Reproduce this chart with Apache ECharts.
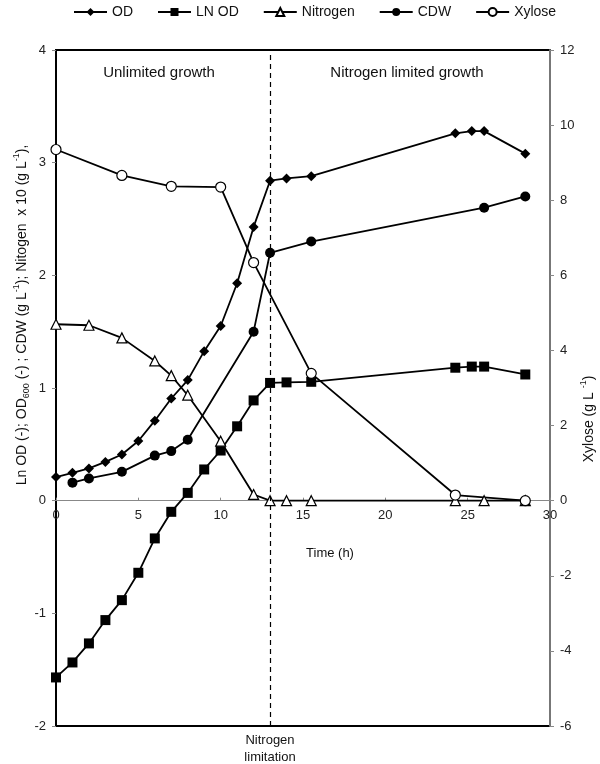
<!DOCTYPE html>
<html>
<head>
<meta charset="utf-8">
<script src="https://cdn.jsdelivr.net/npm/echarts@6/dist/echarts.min.js"></script>
<style>
html,body{margin:0;padding:0;background:#fff;}
#chart{width:600px;height:764px;}
</style>
</head>
<body>
<div id="chart"></div>
<script>
// ---- data ----
var timeOD = [0, 1, 2, 3, 4, 5, 6, 7, 8, 9, 10, 11, 12, 13, 14, 15.5, 24.25, 25.25, 26, 28.5];
var odValues = [0.21, 0.247, 0.286, 0.344, 0.41, 0.53, 0.71, 0.907, 1.07, 1.327, 1.55, 1.93, 2.43, 2.84, 2.86, 2.88, 3.26, 3.28, 3.28, 3.08];
var lnOdValues = [-1.569, -1.436, -1.267, -1.06, -0.883, -0.64, -0.335, -0.099, 0.069, 0.277, 0.445, 0.66, 0.89, 1.045, 1.05, 1.055, 1.18, 1.19, 1.19, 1.12];
var timeCDW = [1, 2, 4, 6, 7, 8, 12, 13, 15.5, 26, 28.5];
var cdwValues = [0.16, 0.197, 0.256, 0.40, 0.44, 0.54, 1.50, 2.20, 2.30, 2.60, 2.70];
var timeN = [0, 2, 4, 6, 7, 8, 10, 12, 13, 14, 15.5, 24.25, 26, 28.5];
var nitrogenValues = [1.566, 1.557, 1.445, 1.24, 1.11, 0.936, 0.528, 0.055, 0, 0, 0, 0, 0, 0];
var timeXyl = [0, 4, 7, 10, 12, 15.5, 24.25, 28.5];
var xyloseValues = [9.35, 8.66, 8.37, 8.35, 6.34, 3.39, 0.15, 0];
var limitationTime = 13;
var seriesNames = ['OD', 'LN OD', 'Nitrogen', 'CDW', 'Xylose'];
var leftTicks = {min: -2, max: 4, interval: 1};
var rightTicks = {min: -6, max: 12, interval: 2};
var xTicks = {min: 0, max: 30, interval: 5};

function pairs(t, v) { return t.map(function (x, i) { return [x, v[i]]; }); }

var FONT = '"Liberation Sans", Arial, sans-serif';
var chart = echarts.init(document.getElementById('chart'), null, {renderer: 'canvas'});

var GRID_TOP = 50, GRID_BOTTOM = 38, H = 764;
var plotH = H - GRID_TOP - GRID_BOTTOM;
// offset that places the bottom x axis on the value 0 of the left axis
var zeroOffset = -plotH * (0 - leftTicks.min) / (leftTicks.max - leftTicks.min);

function lineSeries(name, data, symbol, filled, yIdx, extra) {
  var s = {
    name: name,
    type: 'line',
    data: data,
    yAxisIndex: yIdx,
    symbol: symbol,
    symbolSize: 10,
    showAllSymbol: true,
    lineStyle: {color: '#000', width: 1.8},
    itemStyle: filled ? {color: '#000'} : {color: '#fff', borderColor: '#000', borderWidth: 1.2},
    emphasis: {disabled: true},
    animation: false,
    z: 3
  };
  if (extra) for (var k in extra) s[k] = extra[k];
  return s;
}

var option = {
  animation: false,
  textStyle: {fontFamily: FONT},
  legend: {
    top: 0,
    left: 68,
    itemWidth: 33,
    itemHeight: 10,
    itemGap: 24,
    textStyle: {fontSize: 14, color: '#111', fontFamily: FONT},
    data: seriesNames
  },
  grid: {
    left: 56, right: 50, top: GRID_TOP, bottom: GRID_BOTTOM,
    show: true, borderColor: '#000', borderWidth: 2, backgroundColor: 'transparent'
  },
  xAxis: {
    type: 'value',
    position: 'bottom',
    offset: zeroOffset,
    min: xTicks.min, max: xTicks.max, interval: xTicks.interval,
    axisLine: {onZero: false, lineStyle: {color: '#888', width: 1}},
    axisTick: {show: true, inside: true, length: 3, lineStyle: {color: '#888'}},
    axisLabel: {fontSize: 13, color: '#222', margin: 8, fontFamily: FONT},
    splitLine: {show: false}
  },
  yAxis: [
    {
      type: 'value',
      min: leftTicks.min, max: leftTicks.max, interval: leftTicks.interval,
      axisLine: {show: true, lineStyle: {color: '#000', width: 2}},
      axisTick: {show: true, length: 4, lineStyle: {color: '#888'}},
      axisLabel: {fontSize: 13, color: '#222', margin: 10, fontFamily: FONT},
      splitLine: {show: false}
    },
    {
      type: 'value',
      position: 'right',
      min: rightTicks.min, max: rightTicks.max, interval: rightTicks.interval,
      axisLine: {show: true, lineStyle: {color: '#777', width: 2}},
      axisTick: {show: true, length: 4, lineStyle: {color: '#888'}},
      axisLabel: {fontSize: 13, color: '#222', margin: 10, fontFamily: FONT},
      splitLine: {show: false}
    }
  ],
  series: [
    lineSeries('OD', pairs(timeOD, odValues), 'diamond', true, 0, {
      markLine: {
        silent: true,
        symbol: ['none', 'none'],
        label: {show: false},
        lineStyle: {color: '#000', type: [5, 4], width: 1.2},
        data: [{xAxis: limitationTime}]
      }
    }),
    lineSeries('LN OD', pairs(timeOD, lnOdValues), 'rect', true, 0),
    lineSeries('Nitrogen', pairs(timeN, nitrogenValues), 'triangle', false, 0),
    lineSeries('CDW', pairs(timeCDW, cdwValues), 'circle', true, 0),
    lineSeries('Xylose', pairs(timeXyl, xyloseValues), 'circle', false, 1)
  ],
  graphic: [
    {type: 'text', x: 159, y: 73, style: {text: 'Unlimited growth', font: '15px ' + FONT, fill: '#111', align: 'center', verticalAlign: 'middle'}},
    {type: 'text', x: 407, y: 73, style: {text: 'Nitrogen limited growth', font: '15px ' + FONT, fill: '#111', align: 'center', verticalAlign: 'middle'}},
    {type: 'text', x: 330, y: 553, style: {text: 'Time (h)', font: '13px ' + FONT, fill: '#111', align: 'center', verticalAlign: 'middle'}},
    {type: 'text', x: 270, y: 740, style: {text: 'Nitrogen', font: '13px ' + FONT, fill: '#111', align: 'center', verticalAlign: 'middle'}},
    {type: 'text', x: 270, y: 757, style: {text: 'limitation', font: '13px ' + FONT, fill: '#111', align: 'center', verticalAlign: 'middle'}},
    {type: 'text', x: 22, y: 315, rotation: Math.PI / 2,
      style: {
        text: 'Ln OD (-); OD{sub|600} (-) ; CDW (g L{sup|-1}); Nitogen  x 10 (g L{sup|-1}),',
        font: '14px ' + FONT, fill: '#111', align: 'center', verticalAlign: 'middle',
        rich: {
          sub: {fontSize: 9, fontFamily: FONT, fill: '#111', verticalAlign: 'bottom', lineHeight: 19},
          sup: {fontSize: 9, fontFamily: FONT, fill: '#111', verticalAlign: 'top', lineHeight: 19}
        }
      }},
    {type: 'text', x: 589, y: 419, rotation: Math.PI / 2,
      style: {
        text: 'Xylose (g L {sup|-1})',
        font: '14px ' + FONT, fill: '#111', align: 'center', verticalAlign: 'middle',
        rich: {
          sup: {fontSize: 9, fontFamily: FONT, fill: '#111', verticalAlign: 'top', lineHeight: 19}
        }
      }}
  ]
};
chart.setOption(option);
</script>
</body>
</html>
